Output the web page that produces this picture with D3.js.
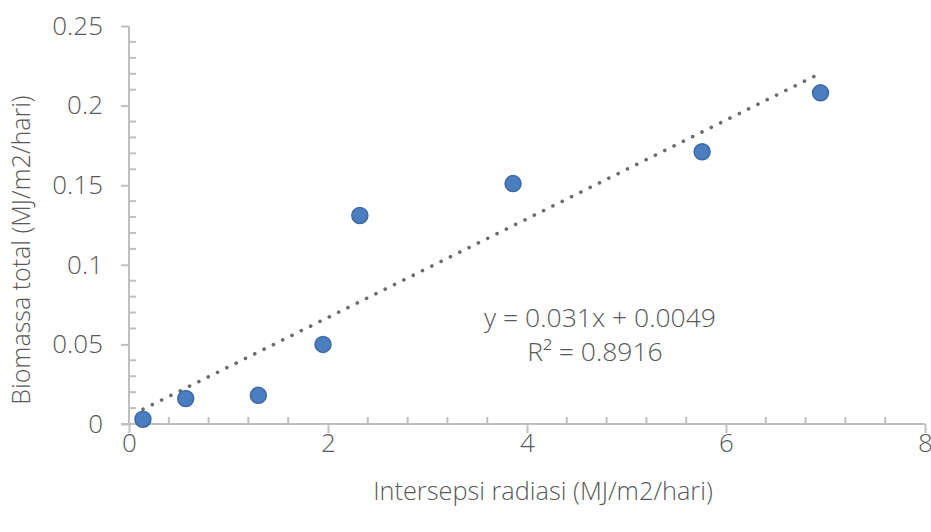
<!DOCTYPE html>
<html>
<head>
<meta charset="utf-8">
<script src="https://cdn.jsdelivr.net/npm/d3@7"></script>
<style>
  html, body { margin: 0; padding: 0; background: #fff; }
  svg { display: block; }
  text { font-family: "Open Sans", "Noto Sans", sans-serif; fill: #595959; font-weight: 300; }
</style>
</head>
<body>
<svg id="chart" width="931" height="532"></svg>
<script>
// Observed data: radiation interception vs total biomass
const radiasi  = [0.14, 0.57, 1.30, 1.95, 2.32, 3.86, 5.76, 6.95];
const biomassa = [0.003, 0.016, 0.018, 0.050, 0.131, 0.151, 0.171, 0.208];

// Linear trend line coefficients and fit
const slope = 0.031;
const intercept = 0.0049;
const rSquared = 0.8916;

// Axis ticks
const xTicks = [0, 2, 4, 6, 8];
const yTicks = [0, 0.05, 0.1, 0.15, 0.2, 0.25];
const yTickLabels = ["0", "0.05", "0.1", "0.15", "0.2", "0.25"];

const xTitle = "Intersepsi radiasi (MJ/m2/hari)";
const yTitle = "Biomassa total (MJ/m2/hari)";

const svg = d3.select("#chart");

const x = d3.scaleLinear().domain([0, 8]).range([129, 925]);
const y = d3.scaleLinear().domain([0, 0.25]).range([424, 26]);

const axisColor = "#bfbfbf";
const textColor = "#595959";
const tickFont = 26;

// Minor ticks
const xMinor = d3.range(0, 8.0001, 0.4).filter(v => Math.abs(v / 2 - Math.round(v / 2)) > 1e-6);
const yMinor = d3.range(0, 0.25001, 0.01).filter(v => Math.abs(v / 0.05 - Math.round(v / 0.05)) > 1e-6);

const g = svg.append("g");

// y axis
const yAxis = g.append("g")
  .attr("transform", `translate(${x(0)},0)`)
  .call(d3.axisLeft(y).tickValues(yTicks).tickSize(8)
    .tickFormat((d, i) => yTickLabels[i]).tickPadding(18));
yAxis.select(".domain").attr("stroke", axisColor).attr("stroke-width", 2)
  .attr("d", `M0,${y(0)}V${y(0.25)}`);
yAxis.selectAll(".tick line").attr("stroke", axisColor).attr("stroke-width", 2);
yAxis.selectAll(".tick text").attr("font-size", tickFont).style("fill", textColor)
  .attr("font-family", "'Open Sans', sans-serif").attr("font-weight", 300);

g.append("g").selectAll("line").data(yMinor).join("line")
  .attr("x1", x(0)).attr("x2", x(0) + 7)
  .attr("y1", d => y(d)).attr("y2", d => y(d))
  .attr("stroke", axisColor).attr("stroke-width", 2);

// x axis
const xAxis = g.append("g")
  .attr("transform", `translate(0,${y(0)})`)
  .call(d3.axisBottom(x).tickValues(xTicks).tickSize(9)
    .tickFormat(d3.format("d")).tickPadding(1));
xAxis.select(".domain").attr("stroke", axisColor).attr("stroke-width", 2)
  .attr("d", `M${x(0) - 8},0H${x(8)}`);
xAxis.selectAll(".tick line").attr("stroke", axisColor).attr("stroke-width", 2);
xAxis.selectAll(".tick text").attr("font-size", tickFont).style("fill", textColor)
  .attr("font-family", "'Open Sans', sans-serif").attr("font-weight", 300);

g.append("g").selectAll("line").data(xMinor).join("line")
  .attr("x1", d => x(d)).attr("x2", d => x(d))
  .attr("y1", y(0)).attr("y2", y(0) - 7)
  .attr("stroke", axisColor).attr("stroke-width", 2);

// Dotted linear trend line across the data range
const xMin = d3.min(radiasi), xMax = d3.max(radiasi);
svg.append("line")
  .attr("x1", x(xMin)).attr("y1", y(slope * xMin + intercept))
  .attr("x2", x(xMax)).attr("y2", y(slope * xMax + intercept))
  .attr("stroke", "#6b6b6b")
  .attr("stroke-width", 3.6)
  .attr("stroke-linecap", "round")
  .attr("stroke-dasharray", "0.1,10.3");

// Data points
svg.append("g").selectAll("circle")
  .data(radiasi.map((v, i) => [v, biomassa[i]]))
  .join("circle")
  .attr("cx", d => x(d[0]))
  .attr("cy", d => y(d[1]))
  .attr("r", 8)
  .attr("fill", "#4a7ec0")
  .attr("stroke", "#3f6aa0")
  .attr("stroke-width", 1.5);

// Trend line equation and R²
const eq = svg.append("text")
  .attr("font-size", 26.5).attr("text-anchor", "middle");
eq.append("tspan").attr("x", 600).attr("y", 327)
  .text(`y = ${slope}x + ${intercept}`);
eq.append("tspan").attr("x", 595).attr("y", 361)
  .text(`R² = ${rSquared}`);

// Axis titles
svg.append("text")
  .attr("x", 543).attr("y", 500)
  .attr("text-anchor", "middle").attr("font-size", 25.3)
  .text(xTitle);

svg.append("text")
  .attr("transform", `translate(30,250) rotate(-90)`)
  .attr("text-anchor", "middle").attr("font-size", 25)
  .text(yTitle);
</script>
</body>
</html>
